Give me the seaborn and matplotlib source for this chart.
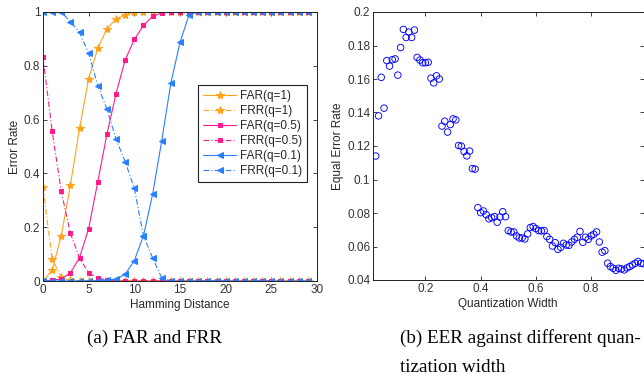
# FAR/FRR curves and EER vs quantization width (two panels)

import matplotlib
matplotlib.use("Agg")
import numpy as np
import matplotlib.pyplot as plt
import seaborn as sns

# ---- panel (a): error rate vs hamming distance ----
hamming = list(range(30))
far_q1 = [0, 0.04, 0.168, 0.357, 0.567, 0.752, 0.865, 0.938, 0.974, 0.99,
          1, 1, 1, 1, 1, 1, 1, 1, 1, 1, 1, 1, 1, 1, 1, 1, 1, 1, 1, 1]
frr_q1 = [0.35, 0.081, 0.015, 0.002, 0, 0, 0, 0, 0, 0,
          0, 0, 0, 0, 0, 0, 0, 0, 0, 0, 0, 0, 0, 0, 0, 0, 0, 0, 0, 0]
far_q05 = [0, 0.003, 0.008, 0.03, 0.087, 0.195, 0.369, 0.546, 0.697, 0.822,
           0.898, 0.95, 0.984, 0.997, 1, 1, 1, 1, 1, 1, 1, 1, 1, 1, 1, 1, 1, 1, 1, 1]
frr_q05 = [0.831, 0.558, 0.333, 0.177, 0.085, 0.03, 0.011, 0.004, 0.001, 0,
           0, 0, 0, 0, 0, 0, 0, 0, 0, 0, 0, 0, 0, 0, 0, 0, 0, 0, 0, 0]
far_q01 = [0, 0, 0, 0, 0, 0, 0.001, 0.004, 0.007, 0.025,
           0.076, 0.168, 0.322, 0.521, 0.736, 0.887, 0.99, 1, 1, 1,
           1, 1, 1, 1, 1, 1, 1, 1, 1, 1]
frr_q01 = [1, 1, 1, 0.964, 0.924, 0.846, 0.726, 0.639, 0.527, 0.444,
           0.344, 0.168, 0.086, 0.011, 0, 0, 0, 0, 0, 0,
           0, 0, 0, 0, 0, 0, 0, 0, 0, 0]

# ---- panel (b): EER vs quantization width (0.02 .. 0.99) ----
qwidth = np.round(np.linspace(0.02, 0.99, 98), 2)
eer = [0.114, 0.138, 0.161, 0.1426, 0.171, 0.1677, 0.1715, 0.172, 0.1623, 0.1788,
       0.1896, 0.1848, 0.188, 0.1848, 0.1892, 0.1729, 0.1713, 0.1697, 0.1697, 0.170,
       0.1605, 0.1577, 0.1619, 0.160, 0.1319, 0.1348, 0.1283, 0.1328, 0.1362, 0.1356,
       0.1203, 0.1199, 0.1167, 0.1141, 0.117,
       0.1065, 0.1062, 0.0832, 0.0802, 0.0812, 0.079, 0.0765, 0.0772, 0.0778, 0.0745,
       0.0776, 0.0808, 0.0778, 0.0695, 0.0687, 0.0687, 0.0663, 0.0651, 0.0651, 0.0645,
       0.0675,
       0.0713, 0.0719, 0.0707, 0.0695, 0.0693, 0.0695, 0.0659, 0.0643, 0.0603, 0.0623,
       0.0583, 0.0595, 0.0619, 0.0609, 0.0607, 0.0627, 0.0643, 0.0655, 0.069,
       0.0625, 0.0655, 0.0643, 0.0663, 0.0673, 0.0687, 0.0627, 0.0566, 0.0575, 0.050,
       0.048, 0.047, 0.0458, 0.047, 0.0466, 0.046, 0.0472, 0.048, 0.049, 0.050,
       0.051, 0.050, 0.0497]

orange = '#FFA31A'
pink = '#FF1A8C'
blue = '#2A7FFF'
dashdot = (0, (5, 2, 1, 2))

sns.set_style("ticks")
plt.rcParams['font.family'] = ['Liberation Sans', 'DejaVu Sans']
plt.rcParams['font.size'] = 8.5

fig = plt.figure(figsize=(6.44, 3.79), dpi=100)

ax1 = fig.add_axes([43/644, 98/379, 274/644, 269/379])
curves = [
    (far_q1, 'FAR(q=1)', orange, '-', '*', 6),
    (frr_q1, 'FRR(q=1)', orange, dashdot, '*', 6),
    (far_q05, 'FAR(q=0.5)', pink, '-', 's', 3.5),
    (frr_q05, 'FRR(q=0.5)', pink, dashdot, 's', 3.5),
    (far_q01, 'FAR(q=0.1)', blue, '-', '<', 4),
    (frr_q01, 'FRR(q=0.1)', blue, dashdot, '<', 4),
]
for vals, lab, col, ls, mk, ms in curves:
    sns.lineplot(x=hamming, y=vals, ax=ax1, color=col, linestyle=ls,
                 marker=mk, markersize=ms, markeredgecolor=col,
                 linewidth=0.8, label=lab)

ax1.set_xlim(0, 30)
ax1.set_ylim(0, 1)
ax1.set_xticks([0, 5, 10, 15, 20, 25, 30])
ax1.set_yticks([0, 0.2, 0.4, 0.6, 0.8, 1])
ax1.set_yticklabels(['0', '0.2', '0.4', '0.6', '0.8', '1'])
ax1.set_xlabel('Hamming Distance', labelpad=2)
ax1.set_ylabel('Error Rate', labelpad=2)
leg = ax1.legend(loc='upper right', bbox_to_anchor=(0.964, 0.729), fancybox=False,
                 edgecolor='#222222', framealpha=1, handlelength=2.8,
                 handletextpad=0.3, labelspacing=0.25, borderpad=0.45,
                 borderaxespad=0, fontsize=8.5)
leg.get_frame().set_linewidth(0.8)

ax2 = fig.add_axes([373/644, 99/379, 270.5/644, 268/379])
sns.scatterplot(x=qwidth, y=eer, ax=ax2, marker='o', s=22,
                fc='none', ec='blue', linewidth=0.65)
ax2.set_xlim(0.01, 0.99)
ax2.set_ylim(0.04, 0.2)
ax2.set_xticks([0.2, 0.4, 0.6, 0.8])
ax2.set_xticklabels(['0.2', '0.4', '0.6', '0.8'])
yt = [0.04, 0.06, 0.08, 0.1, 0.12, 0.14, 0.16, 0.18, 0.2]
ax2.set_yticks(yt)
ax2.set_yticklabels(['0.04', '0.06', '0.08', '0.1', '0.12', '0.14', '0.16', '0.18', '0.2'])
ax2.set_xlabel('Quantization Width', labelpad=2)
ax2.set_ylabel('Equal Error Rate', labelpad=2)

for ax in (ax1, ax2):
    ax.tick_params(direction='in', top=True, right=True, length=3, width=0.6,
                   colors='#222222', labelcolor='#333333', pad=2)
    for sp in ax.spines.values():
        sp.set_visible(True)
        sp.set_linewidth(0.7)
        sp.set_color('#222222')

cap = dict(family=['Liberation Serif', 'DejaVu Serif'], fontsize=13.8, color='black')
fig.text(155/644, 1 - 338/379, '(a) FAR and FRR', va='center', ha='center', **cap)
fig.text(400/644, 1 - 338/379, '(b) EER against different quan-', va='center', ha='left', **cap)
fig.text(400/644, 1 - 368/379, 'tization width', va='center', ha='left', **cap)

fig.savefig('out.png', dpi=100)
